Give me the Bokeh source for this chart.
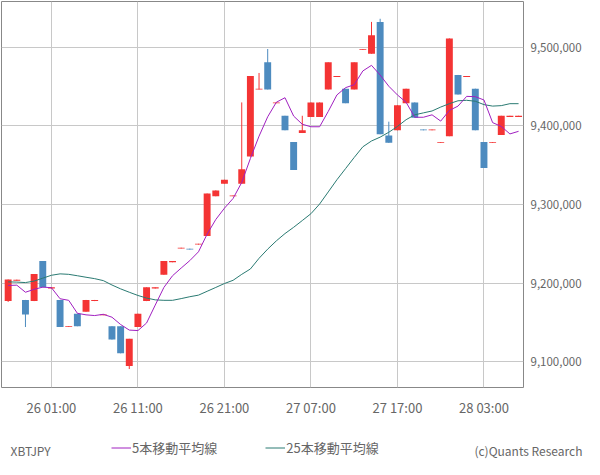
from bokeh.plotting import figure
from bokeh.layouts import column
from bokeh.models import (ColumnDataSource, FixedTicker, NumeralTickFormatter, Range1d,
                          Label, Legend, LegendItem)
from bokeh.embed import file_html
from bokeh.resources import INLINE

# ---- data (hourly candles, XBTJPY, starting 25 20:00) ----
hours = list(range(60))
opens = [
    9177000, 9203000, 9178500, 9177000, 9228000, 9193000, 9178500, 9144000, 9161000, 9163500,
    9177000, 9159000, 9145000, 9145000, 9094500, 9144000, 9177000, 9193000, 9210500, 9226500,
    9244000, 9243800, 9249000, 9260000, 9310500, 9326500, 9310500, 9326500, 9361000, 9446500,
    9481000, 9429000, 9413000, 9379500, 9391000, 9411500, 9411500, 9446500, 9462500, 9447500,
    9446500, 9497000, 9492000, 9532500, 9388000, 9394500, 9429000, 9430000, 9395500, 9394500,
    9378500, 9387000, 9465000, 9462500, 9447500, 9379500, 9378500, 9388500, 9411500, 9411500]
highs = [
    9204500, 9204300, 9178500, 9211500, 9228000, 9194500, 9178500, 9145000, 9161000, 9178500,
    9178500, 9160000, 9145000, 9145000, 9129000, 9161000, 9194500, 9194500, 9228000, 9228000,
    9245000, 9243800, 9250000, 9314000, 9318000, 9331500, 9311500, 9430000, 9463500, 9467500,
    9498000, 9430000, 9413000, 9379500, 9413000, 9430000, 9430000, 9481000, 9463500, 9447500,
    9481000, 9498000, 9532500, 9536500, 9405500, 9426500, 9447500, 9430000, 9395500, 9395500,
    9379500, 9511500, 9465000, 9463500, 9447500, 9379500, 9379500, 9413000, 9413000, 9413000]
lows = [
    9176000, 9203000, 9144000, 9177000, 9194500, 9193000, 9144000, 9144000, 9145000, 9163500,
    9177000, 9159000, 9128000, 9110500, 9090500, 9144000, 9177000, 9193000, 9210500, 9226500,
    9244000, 9242600, 9249000, 9260000, 9310500, 9326500, 9310500, 9326500, 9361000, 9446500,
    9446500, 9429000, 9394500, 9344000, 9391000, 9411500, 9411500, 9446500, 9462500, 9429000,
    9446500, 9497000, 9492000, 9389500, 9378500, 9394500, 9429000, 9410500, 9394500, 9394500,
    9378500, 9387000, 9440000, 9462500, 9394500, 9346500, 9378500, 9388500, 9411500, 9411500]
closes = [
    9204500, 9204300, 9160000, 9211500, 9194500, 9194500, 9144000, 9145000, 9145000, 9178500,
    9178500, 9160000, 9128000, 9110500, 9129000, 9161000, 9194500, 9194500, 9228000, 9228000,
    9245000, 9242600, 9250000, 9314000, 9318000, 9331500, 9311500, 9345000, 9463500, 9447500,
    9446500, 9430000, 9394500, 9344000, 9394500, 9430000, 9430000, 9481000, 9463500, 9429000,
    9481000, 9498000, 9515500, 9389500, 9378500, 9426500, 9447500, 9410500, 9394500, 9395500,
    9379500, 9511500, 9440000, 9463500, 9394500, 9346500, 9379500, 9413000, 9413000, 9413000]
ma5 = [
    9196900, 9197300, 9188300, 9192000, 9194800, 9194100, 9180000, 9178000, 9161500, 9159500,
    9158600, 9160200, 9156500, 9147200, 9140100, 9139500, 9149100, 9171900, 9194400, 9209300,
    9219100, 9228600, 9239800, 9262300, 9280900, 9295300, 9307700, 9328100, 9358600, 9387000,
    9411700, 9430200, 9436000, 9412600, 9402200, 9399000, 9399000, 9418500, 9439500, 9448800,
    9452500, 9470100, 9477200, 9464800, 9450600, 9439500, 9430200, 9411100, 9411100, 9414200,
    9406200, 9419800, 9425300, 9437700, 9437300, 9433100, 9404300, 9399400, 9389900, 9393200]
ma25 = [
    9201500, 9201200, 9200600, 9202500, 9206200, 9209900, 9211700, 9211100, 9209300, 9207400,
    9205600, 9203100, 9197500, 9192600, 9188300, 9184200, 9180900, 9178600, 9178000, 9178000,
    9180200, 9182600, 9184600, 9189500, 9194400, 9199400, 9203500, 9211100, 9217900, 9231500,
    9243200, 9253700, 9263000, 9271000, 9279600, 9288300, 9300600, 9316000, 9331500, 9345700,
    9359900, 9373500, 9380900, 9385800, 9392000, 9399400, 9408000, 9414200, 9416700, 9419100,
    9424100, 9428400, 9432100, 9432700, 9431500, 9427200, 9425300, 9425900, 9428400, 9428400]
tick_hours = [5, 15, 25, 35, 45, 55]
tick_labels = ["26 01:00", "26 11:00", "26 21:00", "27 07:00", "27 17:00", "28 03:00"]
price_ticks = [9100000, 9200000, 9300000, 9400000, 9500000]
symbol = "XBTJPY"
ma5_name = "5本移動平均線"
ma25_name = "25本移動平均線"
credit = "(c)Quants Research"

# ---- styling ----
UP = "#f43434"
DOWN = "#4d8bbf"
MA5_C = "#a020c0"
MA25_C = "#2a7a72"
FONT = "Noto Sans CJK JP"
TXT = "#666666"

colors = [UP if c >= o else DOWN for o, c in zip(opens, closes)]
src = ColumnDataSource(dict(
    x=hours, o=opens, h=highs, l=lows, c=closes,
    top=[max(o, c) for o, c in zip(opens, closes)],
    bot=[min(o, c) for o, c in zip(opens, closes)],
    color=colors, ma5=ma5, ma25=ma25))

W = 584
p = figure(width=W, height=419, output_backend="svg", toolbar_location=None,
           x_range=Range1d(-0.77, 59.57), y_range=Range1d(9067000, 9558500),
           y_axis_location="right", min_border_left=1, min_border_top=1,
           min_border_right=50, min_border_bottom=20)
p.background_fill_color = "white"
p.border_fill_color = "white"
p.outline_line_color = "#888888"
p.outline_line_width = 1

p.segment(x0="x", x1="x", y0="l", y1="h", color="color", line_width=1, source=src)
p.vbar(x="x", width=0.8, top="top", bottom="bot", fill_color="color",
       line_color=None, source=src)
p.line("x", "ma25", color=MA25_C, line_width=1, source=src)
p.line("x", "ma5", color=MA5_C, line_width=1, source=src)

xa = p.xaxis[0]
xa.ticker = FixedTicker(ticks=tick_hours)
xa.major_label_overrides = {t: s for t, s in zip(tick_hours, tick_labels)}
ya = p.yaxis[0]
ya.ticker = FixedTicker(ticks=price_ticks)
ya.formatter = NumeralTickFormatter(format="0,0")
for ax in (xa, ya):
    ax.axis_line_color = None
    ax.major_tick_line_color = None
    ax.minor_tick_line_color = None
    ax.major_label_text_font = FONT
    ax.major_label_text_color = TXT
xa.major_label_text_font_size = "13px"
ya.major_label_text_font_size = "11.5px"
xa.major_label_standoff = 4
ya.major_label_standoff = 1

p.grid.grid_line_color = "#c8c8c8"
p.grid.grid_line_width = 1

# ---- bottom strip: symbol, legend, credit ----
SH = 40
strip = figure(width=W, height=SH, output_backend="svg", toolbar_location=None,
               x_range=Range1d(0, W), y_range=Range1d(0, SH),
               x_axis_type=None, y_axis_type=None,
               min_border_left=0, min_border_right=0, min_border_top=0, min_border_bottom=0)
for fig in (p, strip):
    if "frame_align" in fig.properties():
        fig.frame_align = False
strip.outline_line_color = None
strip.grid.visible = False
strip.background_fill_color = "white"
strip.border_fill_color = "white"
l5 = strip.line(hours, ma5, color=MA5_C, line_width=1)
l25 = strip.line(hours, ma25, color=MA25_C, line_width=1)

legend = Legend(items=[LegendItem(label=ma5_name, renderers=[l5]),
                       LegendItem(label=ma25_name, renderers=[l25])],
                location=(111, 2), orientation="horizontal",
                glyph_width=20, glyph_height=13, label_standoff=1, spacing=48,
                padding=0, margin=0, border_line_color=None,
                background_fill_alpha=0, label_text_font=FONT,
                label_text_font_size="13px", label_text_color=TXT,
                label_height=13)
strip.add_layout(legend)

strip.add_layout(Label(x=10, y=9, x_units="screen", y_units="screen", text=symbol,
                       text_font=FONT, text_font_size="12px", text_color=TXT,
                       text_baseline="middle", text_align="left"))
strip.add_layout(Label(x=W - 2, y=9, x_units="screen", y_units="screen", text=credit,
                       text_font=FONT, text_font_size="12px", text_color=TXT,
                       text_baseline="middle", text_align="right"))

layout = column(p, strip, spacing=0)
open("out.html", "w").write(file_html(layout, INLINE))
